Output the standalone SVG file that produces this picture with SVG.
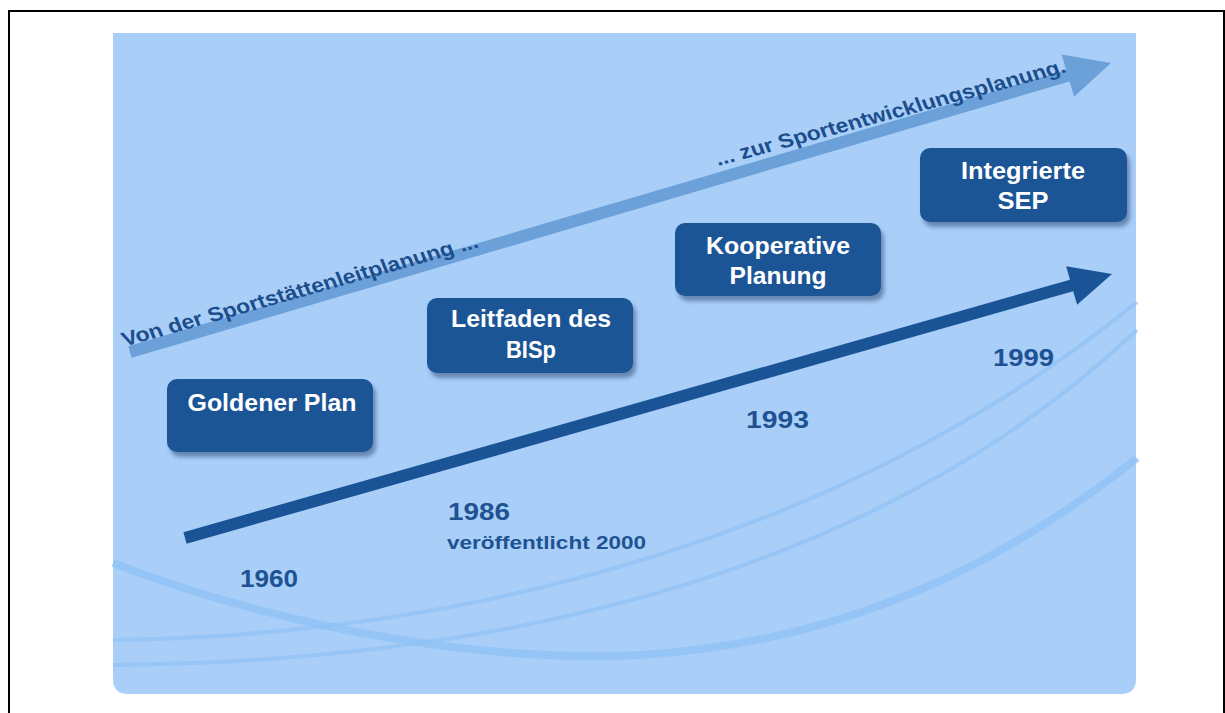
<svg xmlns="http://www.w3.org/2000/svg" width="1225" height="713" viewBox="0 0 1225 713">
<style>
.box{fill:#1b5496;filter:url(#sh)}
.bt{font-family:"Liberation Sans",Arial,sans-serif;font-weight:bold;font-size:23px;fill:#ffffff;text-anchor:middle}
.yr{font-family:"Liberation Sans",Arial,sans-serif;font-weight:bold;font-size:24px;fill:#1e5293}
.rt{font-family:"Liberation Sans",Arial,sans-serif;font-weight:bold;font-size:20px;fill:#1c4d8c}
.swoosh{fill:none;stroke:#8fc1f5}
</style>
<defs>
<filter id="sh" x="-10%" y="-20%" width="130%" height="150%">
<feDropShadow dx="3" dy="5" stdDeviation="2" flood-color="#2d4b74" flood-opacity="0.55"/>
</filter>
</defs>
<rect x="0" y="0" width="1225" height="713" fill="#ffffff"/>
<rect x="9" y="11" width="1215" height="703" fill="none" stroke="#000000" stroke-width="2"/>
<path d="M113,33 H1136 V679 Q1136,694 1121,694 H128 Q113,694 113,679 Z" fill="#a9cff9"/>
<g id="background-swooshes">
<path class="swoosh" stroke-width="8" opacity="0.75" d="M113,563 C 300,635 500,662 640,655 C 850,642 1010,560 1137,458"/>
<path class="swoosh" stroke-width="4" opacity="0.7" d="M113,640 C 420,636 820,560 1137,302"/>
<path class="swoosh" stroke-width="4" opacity="0.7" d="M113,665 C 460,662 860,592 1137,330"/>
</g>
<g id="connectors">
<polygon id="arrow-light" fill="#6ca0d8" points="128.3,346.2 1066.1,70.0 1061.6,54.6 1111,63 1074.1,96.8 1069.5,81.5 131.7,357.8"/>
<polygon id="arrow-dark" fill="#1b5496" points="183.4,532.2 1070.0,279.7 1066.1,266.3 1112,274 1077.1,304.7 1073.2,291.3 186.6,543.8"/>
</g>
<g id="label-from">
<text class="rt" transform="translate(125,346.5) scale(1.2,1) rotate(-18.6)" x="0" y="0" textLength="312" lengthAdjust="spacingAndGlyphs">Von der Sportstättenleitplanung ...</text>
</g>
<g id="label-to">
<text class="rt" transform="translate(718,166) scale(1.2,1) rotate(-17.9)" x="0" y="0" textLength="306" lengthAdjust="spacingAndGlyphs">... zur Sportentwicklungsplanung.</text>
</g>
<g id="node-goldener-plan">
<rect class="box" x="167" y="379" width="206" height="73" rx="10"/>
<text class="bt" x="272" y="411" textLength="169" lengthAdjust="spacingAndGlyphs">Goldener Plan</text>
</g>
<g id="node-leitfaden">
<rect class="box" x="427" y="298" width="206" height="75" rx="10"/>
<text class="bt" x="531" y="327" textLength="160" lengthAdjust="spacingAndGlyphs">Leitfaden des</text>
<text class="bt" x="531" y="358" textLength="50" lengthAdjust="spacingAndGlyphs">BISp</text>
</g>
<g id="node-kooperative">
<rect class="box" x="675" y="223" width="206" height="73" rx="10"/>
<text class="bt" x="778" y="254" textLength="144" lengthAdjust="spacingAndGlyphs">Kooperative</text>
<text class="bt" x="778" y="284" textLength="97" lengthAdjust="spacingAndGlyphs">Planung</text>
</g>
<g id="node-integrierte">
<rect class="box" x="920" y="148" width="207" height="74" rx="10"/>
<text class="bt" x="1023" y="179" textLength="124" lengthAdjust="spacingAndGlyphs">Integrierte</text>
<text class="bt" x="1023" y="209" textLength="51" lengthAdjust="spacingAndGlyphs">SEP</text>
</g>
<g id="years">
<text class="yr" x="240" y="587" textLength="58" lengthAdjust="spacingAndGlyphs">1960</text>
<text class="yr" x="448" y="520" textLength="62" lengthAdjust="spacingAndGlyphs">1986</text>
<text class="yr" x="447" y="549" style="font-size:19px" textLength="199" lengthAdjust="spacingAndGlyphs">veröffentlicht 2000</text>
<text class="yr" x="746" y="428" textLength="63" lengthAdjust="spacingAndGlyphs">1993</text>
<text class="yr" x="993" y="366" textLength="61" lengthAdjust="spacingAndGlyphs">1999</text>
</g>
</svg>
